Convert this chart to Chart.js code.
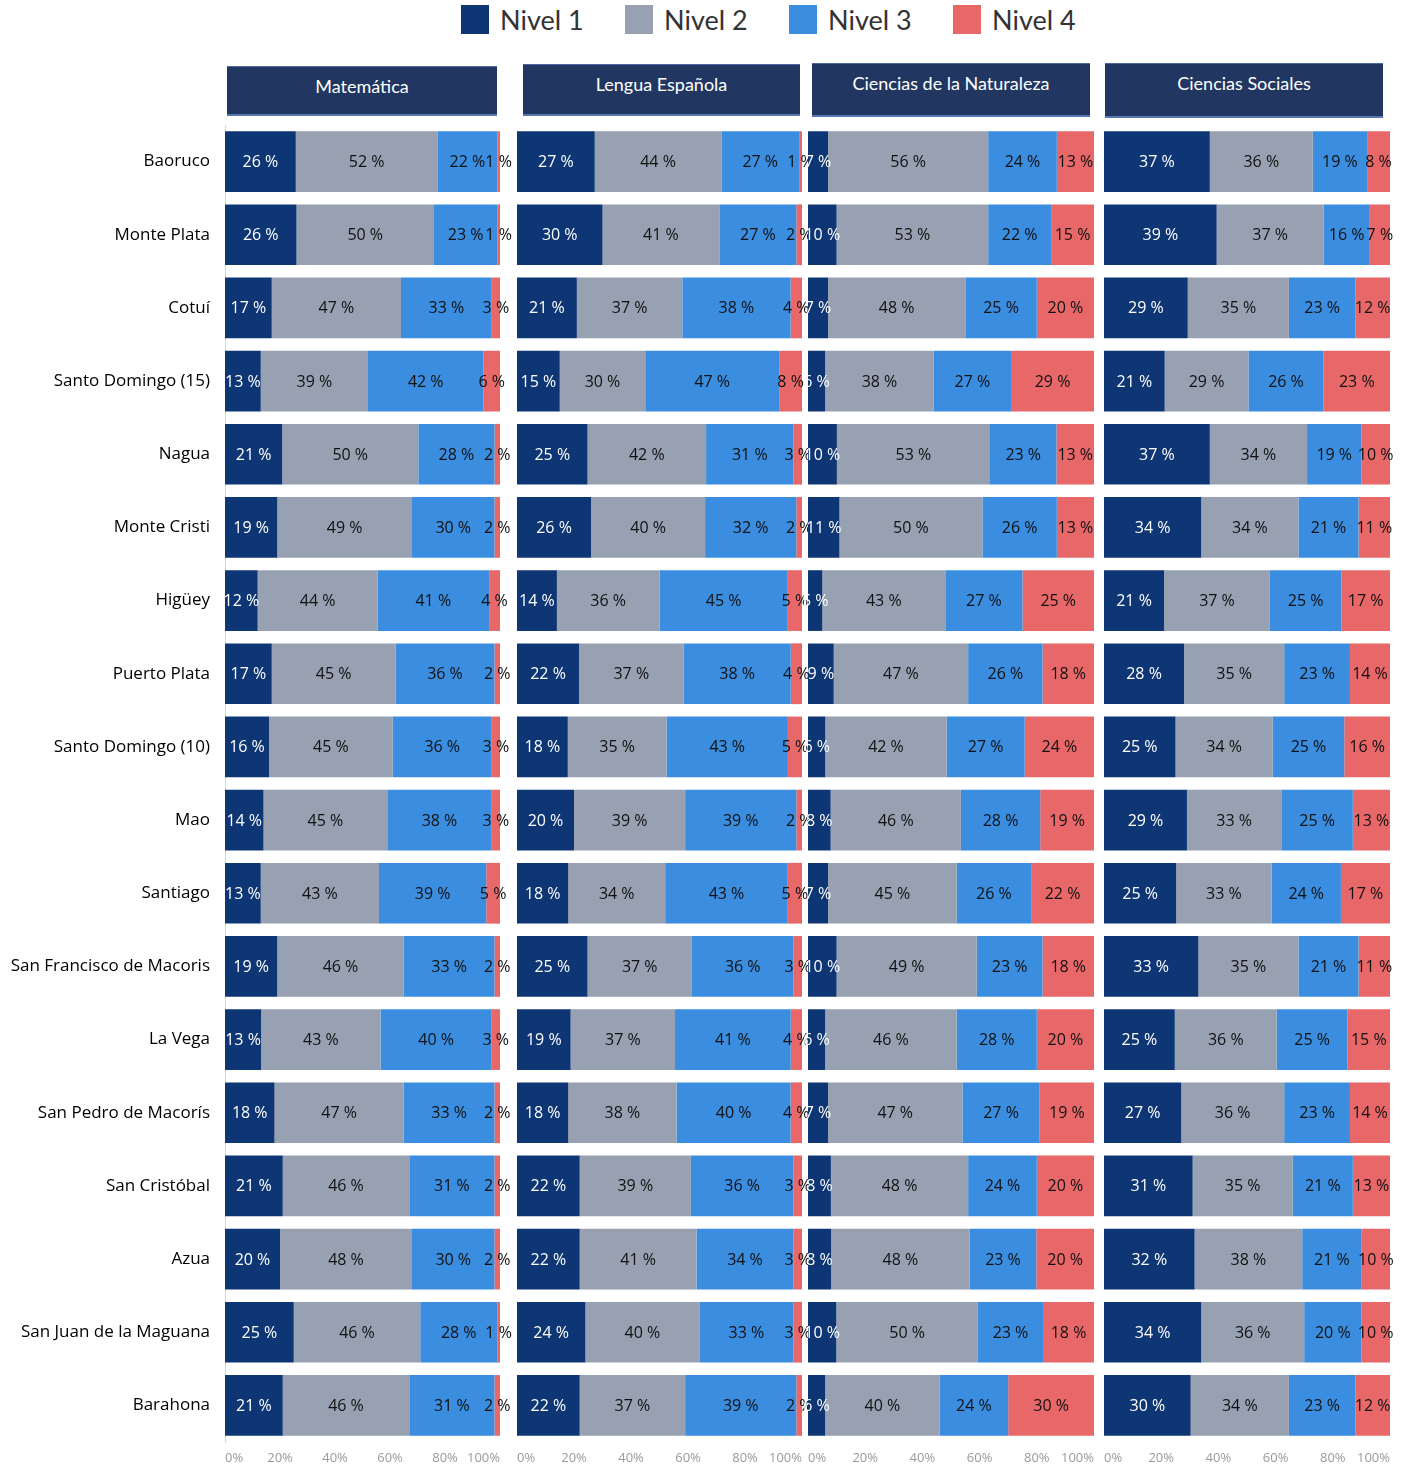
<!DOCTYPE html>
<html>
<head>
<meta charset="utf-8">
<script src="https://cdn.jsdelivr.net/npm/chart.js@4.4.0/dist/chart.umd.min.js"></script>
<style>
  body { margin: 0; background: #fff; width: 1409px; height: 1468px; position: relative; overflow: hidden; font-family: Lato, "Open Sans", sans-serif; }
  .leg { position: absolute; top: 5px; height: 29px; display: flex; align-items: center; }
  .leg span.sw { display: inline-block; width: 28px; height: 29px; margin-right: 11px; }
  .leg span.tx { font-size: 27px; color: #333; line-height: 29px; }
  .box { position: absolute; background: #213761; color: #fff; font-size: 18px; text-align: center;
         box-sizing: border-box; padding-top: 8px; border-top: 1px solid #4d67a0; border-bottom: 2px solid #5a76b0; }
  canvas.panel { position: absolute; top: 125px; }
</style>
</head>
<body>

<div id="legend"></div>
<div id="heads"></div>

<canvas id="c0" class="panel"></canvas>
<canvas id="c1" class="panel"></canvas>
<canvas id="c2" class="panel"></canvas>
<canvas id="c3" class="panel"></canvas>

<script>
/* ======= Data ======= */
var regiones = ['Baoruco', 'Monte Plata', 'Cotuí', 'Santo Domingo (15)', 'Nagua', 'Monte Cristi', 'Higüey',
  'Puerto Plata', 'Santo Domingo (10)', 'Mao', 'Santiago', 'San Francisco de Macoris', 'La Vega',
  'San Pedro de Macorís', 'San Cristóbal', 'Azua', 'San Juan de la Maguana', 'Barahona'];
var niveles = ['Nivel 1', 'Nivel 2', 'Nivel 3', 'Nivel 4'];
var asignaturas = ['Matemática', 'Lengua Española', 'Ciencias de la Naturaleza', 'Ciencias Sociales'];
var ticks = [0, 20, 40, 60, 80, 100];

var matN1 = [26, 26, 17, 13, 21, 19, 12, 17, 16, 14, 13, 19, 13, 18, 21, 20, 25, 21];
var matN2 = [52, 50, 47, 39, 50, 49, 44, 45, 45, 45, 43, 46, 43, 47, 46, 48, 46, 46];
var matN3 = [22, 23, 33, 42, 28, 30, 41, 36, 36, 38, 39, 33, 40, 33, 31, 30, 28, 31];
var matN4 = [1, 1, 3, 6, 2, 2, 4, 2, 3, 3, 5, 2, 3, 2, 2, 2, 1, 2];

var lenN1 = [27, 30, 21, 15, 25, 26, 14, 22, 18, 20, 18, 25, 19, 18, 22, 22, 24, 22];
var lenN2 = [44, 41, 37, 30, 42, 40, 36, 37, 35, 39, 34, 37, 37, 38, 39, 41, 40, 37];
var lenN3 = [27, 27, 38, 47, 31, 32, 45, 38, 43, 39, 43, 36, 41, 40, 36, 34, 33, 39];
var lenN4 = [1, 2, 4, 8, 3, 2, 5, 4, 5, 2, 5, 3, 4, 4, 3, 3, 3, 2];

var natN1 = [7, 10, 7, 6, 10, 11, 5, 9, 6, 8, 7, 10, 6, 7, 8, 8, 10, 6];
var natN2 = [56, 53, 48, 38, 53, 50, 43, 47, 42, 46, 45, 49, 46, 47, 48, 48, 50, 40];
var natN3 = [24, 22, 25, 27, 23, 26, 27, 26, 27, 28, 26, 23, 28, 27, 24, 23, 23, 24];
var natN4 = [13, 15, 20, 29, 13, 13, 25, 18, 24, 19, 22, 18, 20, 19, 20, 20, 18, 30];

var socN1 = [37, 39, 29, 21, 37, 34, 21, 28, 25, 29, 25, 33, 25, 27, 31, 32, 34, 30];
var socN2 = [36, 37, 35, 29, 34, 34, 37, 35, 34, 33, 33, 35, 36, 36, 35, 38, 36, 34];
var socN3 = [19, 16, 23, 26, 19, 21, 25, 23, 25, 25, 24, 21, 25, 23, 21, 21, 20, 23];
var socN4 = [8, 7, 12, 23, 10, 11, 17, 14, 16, 13, 17, 11, 15, 14, 13, 10, 10, 12];

var colores = ['#0e3674', '#97a1b2', '#3a8ddf', '#e8686a'];

/* ======= Layout ======= */
// chart area left/right in page pixels, header boxes
var paneles = [
  { series: [matN1, matN2, matN3, matN4], left: 225, right: 500, box: [227, 66, 270, 50] },
  { series: [lenN1, lenN2, lenN3, lenN4], left: 517, right: 802, box: [523, 64, 277, 52] },
  { series: [natN1, natN2, natN3, natN4], left: 808, right: 1094, box: [812, 63, 278, 54] },
  { series: [socN1, socN2, socN3, socN4], left: 1104, right: 1390, box: [1105, 63, 278, 55] }
];
var PAD = 15;
var CH = 1343;

/* ======= Legend ======= */
var legX = [461, 625, 789, 953];
var legend = document.getElementById('legend');
niveles.forEach(function (n, i) {
  var d = document.createElement('div');
  d.className = 'leg';
  d.style.left = legX[i] + 'px';
  d.innerHTML = '<span class="sw" style="background:' + colores[i] + '"></span><span class="tx">' + n + '</span>';
  legend.appendChild(d);
});

/* ======= Header boxes ======= */
var heads = document.getElementById('heads');
asignaturas.forEach(function (a, i) {
  var b = paneles[i].box;
  var d = document.createElement('div');
  d.className = 'box';
  d.style.left = b[0] + 'px';
  d.style.top = b[1] + 'px';
  d.style.width = b[2] + 'px';
  d.style.height = b[3] + 'px';
  d.textContent = a;
  heads.appendChild(d);
});

/* ======= Segment labels ======= */
var segLabels = {
  id: 'segLabels',
  afterDatasetsDraw: function (chart) {
    var ctx = chart.ctx;
    ctx.save();
    ctx.font = '500 16px "Open Sans"';
    ctx.textAlign = 'center';
    ctx.textBaseline = 'middle';
    chart.data.datasets.forEach(function (ds, i) {
      chart.getDatasetMeta(i).data.forEach(function (bar, j) {
        ctx.fillStyle = i === 0 ? '#ffffff' : '#111111';
        ctx.fillText(ds.raw[j] + ' %', (bar.x + bar.base) / 2, bar.y + 1);
      });
    });
    ctx.restore();
  }
};

/* ======= Charts ======= */
paneles.forEach(function (p, k) {
  var canvas = document.getElementById('c' + k);
  var first = k === 0;
  var cLeft = first ? 0 : p.left - PAD;
  var cWidth = p.right + PAD - cLeft;
  canvas.width = cWidth;
  canvas.height = CH;
  canvas.style.left = cLeft + 'px';

  var datasets = p.series.map(function (vals, i) {
    return {
      label: niveles[i],
      raw: vals,
      data: vals.map(function (v, j) {
        var tot = p.series[0][j] + p.series[1][j] + p.series[2][j] + p.series[3][j];
        return v / tot * 100;
      }),
      backgroundColor: colores[i],
      barPercentage: 0.83,
      categoryPercentage: 1.0
    };
  });

  new Chart(canvas, {
    type: 'bar',
    data: { labels: regiones, datasets: datasets },
    options: {
      indexAxis: 'y',
      responsive: false,
      animation: false,
      layout: { padding: { left: first ? 0 : PAD, right: PAD, top: 0, bottom: 0 } },
      plugins: { legend: { display: false }, tooltip: { enabled: false } },
      scales: {
        x: {
          stacked: true,
          min: 0, max: 100,
          grid: { display: false, drawTicks: false },
          border: { display: false },
          afterBuildTicks: function (scale) {
            scale.ticks = ticks.map(function (t) { return { value: t }; });
          },
          afterFit: function (scale) { scale.height = 26; },
          ticks: {
            align: 'inner',
            padding: 8,
            color: '#9a9a9a',
            font: { family: 'Open Sans', size: 13 },
            callback: function (v) { return v + '%'; }
          }
        },
        y: {
          stacked: true,
          display: first,
          grid: { display: false, drawTicks: false },
          border: { display: true, color: '#d9d9d9' },
          afterFit: function (scale) {
            if (first) scale.width = p.left;
            scale.paddingTop = 0;
            scale.paddingBottom = 0;
          },
          ticks: {
            padding: 15,
            color: '#000',
            font: { family: 'Open Sans', size: 17, weight: '500' }
          }
        }
      }
    },
    plugins: [segLabels]
  });
});
</script>
</body>
</html>
